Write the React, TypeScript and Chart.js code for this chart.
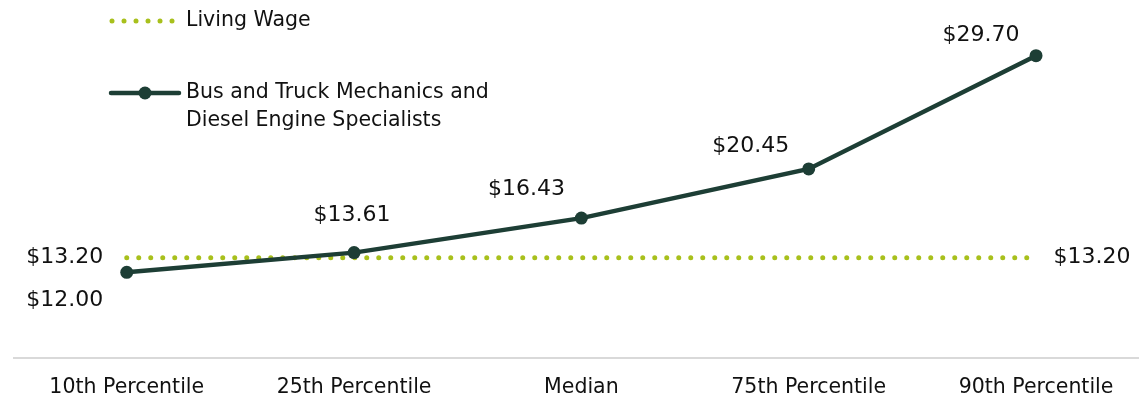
import React, { useEffect, useRef } from "react";
import { Chart, registerables } from "chart.js";

Chart.register(...registerables);

const categories = ["10th Percentile", "25th Percentile", "Median", "75th Percentile", "90th Percentile"];
const occupationWages = [12.0, 13.61, 16.43, 20.45, 29.7];
const livingWage = [13.2, 13.2, 13.2, 13.2, 13.2];
const occupationName = ["Bus and Truck Mechanics and", "Diesel Engine Specialists"];
const livingWageName = "Living Wage";

const DARK = "#1d3e35";
const GREEN = "#a8c01c";
const TEXT = "#111111";
const FONT = "'DejaVu Sans', sans-serif";

const fmt = (v: number) => "$" + v.toFixed(2);

const overlayPlugin = {
  id: "overlay",
  afterDatasetsDraw(chart: any) {
    const ctx = chart.ctx;
    const xs = chart.scales.x;
    const ys = chart.scales.y;
    ctx.save();
    ctx.fillStyle = TEXT;
    ctx.font = `22px ${FONT}`;
    ctx.textAlign = "center";
    ctx.textBaseline = "middle";
    const offs = [
      [-62, 28],
      [-2, -37],
      [-55, -29],
      [-58, -23],
      [-55, -20],
    ];
    occupationWages.forEach((v, i) => {
      const px = xs.getPixelForValue(i);
      const py = ys.getPixelForValue(v);
      ctx.fillText(fmt(v), px + offs[i][0], py + offs[i][1]);
    });
    const l0 = xs.getPixelForValue(0);
    const l4 = xs.getPixelForValue(livingWage.length - 1);
    ctx.fillText(fmt(livingWage[0]), l0 - 62, ys.getPixelForValue(livingWage[0]));
    ctx.fillText(fmt(livingWage[livingWage.length - 1]), l4 + 56, ys.getPixelForValue(livingWage[livingWage.length - 1]));

    // legend
    ctx.textAlign = "left";
    ctx.font = `20.5px ${FONT}`;
    ctx.fillStyle = GREEN;
    for (let k = 0; k < 6; k++) {
      ctx.beginPath();
      ctx.arc(112 + k * 12, 21, 2.5, 0, Math.PI * 2);
      ctx.fill();
    }
    ctx.fillStyle = TEXT;
    ctx.fillText(livingWageName, 186, 21);

    ctx.strokeStyle = DARK;
    ctx.lineWidth = 4.5;
    ctx.lineCap = "round";
    ctx.beginPath();
    ctx.moveTo(111, 93);
    ctx.lineTo(179, 93);
    ctx.stroke();
    ctx.fillStyle = DARK;
    ctx.beginPath();
    ctx.arc(145, 93, 6.5, 0, Math.PI * 2);
    ctx.fill();
    ctx.fillStyle = TEXT;
    ctx.fillText(occupationName[0], 186, 93);
    ctx.fillText(occupationName[1], 186, 121);
    ctx.restore();
  },
};

export default function App() {
  const ref = useRef<HTMLCanvasElement | null>(null);
  useEffect(() => {
    if (!ref.current) return;
    const chart = new Chart(ref.current, {
      type: "line",
      data: {
        datasets: [
          {
            label: occupationName.join(" "),
            data: occupationWages.map((y, x) => ({ x, y })),
            borderColor: DARK,
            backgroundColor: DARK,
            borderWidth: 4.5,
            pointRadius: 6.5,
            pointBackgroundColor: DARK,
            pointBorderWidth: 0,
            tension: 0,
            order: 0,
          },
          {
            label: livingWageName,
            data: livingWage.map((y, x) => ({ x, y })),
            borderColor: GREEN,
            borderWidth: 5,
            borderDash: [0, 12],
            borderCapStyle: "round",
            pointRadius: 0,
            tension: 0,
            order: 1,
          },
        ],
      },
      options: {
        animation: false,
        responsive: false,
        maintainAspectRatio: false,
        layout: { autoPadding: false, padding: { left: 14, right: 0, top: 0, bottom: 0 } },
        plugins: { legend: { display: false }, tooltip: { enabled: false } },
        scales: {
          x: {
            type: "linear",
            min: -0.496,
            max: 4.453,
            grid: { display: false, drawTicks: false },
            border: { display: true, color: "#d9d9d9", width: 2 },
            afterFit: (s: any) => {
              s.height = 42;
            },
            ticks: {
              stepSize: 1,
              includeBounds: false,
              autoSkip: false,
              maxRotation: 0,
              padding: 17,
              color: TEXT,
              font: { size: 20.5, family: FONT },
              callback: (v: any) => categories[v] ?? "",
            },
          },
          y: {
            display: false,
            min: 5,
            max: 34.25,
          },
        },
      },
      plugins: [overlayPlugin],
    });
    return () => chart.destroy();
  }, []);
  return (
    <div style={{ position: "absolute", left: 0, top: 0, width: 1139, height: 400 }}>
      <canvas ref={ref} width={1139} height={400} style={{ width: 1139, height: 400 }} />
    </div>
  );
}
